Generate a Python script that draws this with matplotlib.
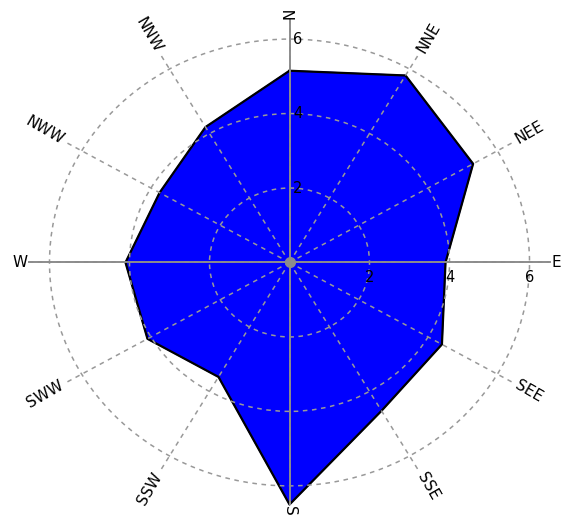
import numpy as np
import matplotlib
matplotlib.use('Agg')
import matplotlib.pyplot as plt

# 12 个方位及对应数值
directions = ['N', 'NNE', 'NEE', 'E', 'SEE', 'SSE', 'S', 'SSW', 'SWW', 'W', 'NWW', 'NNW']
values = [5.15, 5.8, 5.3, 3.9, 4.4, 4.6, 6.5, 3.55, 4.1, 4.1, 3.75, 4.2]
ring_levels = [2, 4, 6]
ring_labels = ['2', '4', '6']
r_max = 6.5

compass = np.arange(len(directions)) * 30.0     # 顺时针, 从北开始
theta = np.deg2rad(compass)

fig = plt.figure(figsize=(5.65, 5.17), dpi=100)
ax = fig.add_axes([0.0522, 0.0242, 0.9204, 0.9362], projection='polar')
ax.set_aspect('auto')
ax.set_theta_zero_location('N')
ax.set_theta_direction(-1)
ax.set_ylim(0, r_max)

# 填充多边形
th_c = np.append(theta, theta[0])
v_c = np.append(values, values[0])
ax.fill(th_c, v_c, color='#0000ff', zorder=1, clip_on=False)
ax.plot(th_c, v_c, color='k', lw=1.6, zorder=1.5, clip_on=False)

# 网格: 虚线圆环和射线
ax.set_xticks(theta)
ax.set_yticks(ring_levels)
ax.set_xticklabels([])
ax.set_yticklabels([])
ax.set_axisbelow(False)
ax.grid(True, color='#999999', linestyle=(0, (3, 3)), lw=1.1)
ax.spines['polar'].set_visible(False)
ax.tick_params(length=0)

# 南北、东西实线轴
for a in [0, 90, 180, 270]:
    t = np.deg2rad(a)
    ax.plot([t, t], [0, r_max], color='#8c8c8c', lw=1.4, zorder=3, clip_on=False)
ax.plot([0], [0], 'o', color='#8c8c8c', ms=7, zorder=4)

# 方位标签, 沿射线方向旋转
for a, t, name in zip(compass, theta, directions):
    if a <= 180:
        rot, ha = 90 - a, 'left'
    else:
        rot, ha = 270 - a, 'right'
    ax.text(t, r_max + 0.05, name, rotation=rot, rotation_mode='anchor',
            ha=ha, va='center', fontsize=11, clip_on=False)

# 刻度值
for r, lab in zip(ring_levels, ring_labels):
    ax.annotate(lab, xy=(0, r), xytext=(2.5, 0), textcoords='offset points',
                ha='left', va='center', fontsize=10.5, zorder=5)
    ax.annotate(lab, xy=(np.pi / 2, r), xytext=(0, -11), textcoords='offset points',
                ha='center', va='center', fontsize=10.5, zorder=5)

fig.savefig('out.png', dpi=100)
